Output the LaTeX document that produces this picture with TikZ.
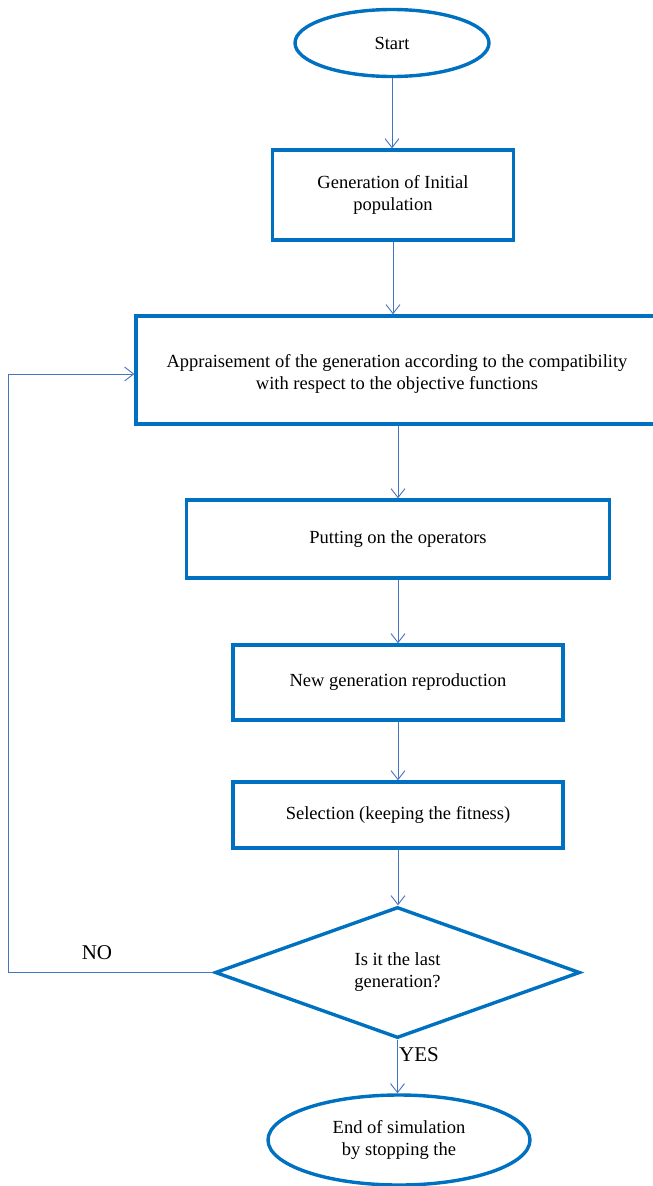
\documentclass[tikz,border=0pt]{standalone}
\usepackage{fontspec}
\setmainfont{Liberation Serif}
\usetikzlibrary{shapes.geometric,arrows.meta}
\definecolor{boxblue}{HTML}{0070C0}
\definecolor{lineblue}{HTML}{4472C4}
\begin{document}
\begin{tikzpicture}[x=1pt,y=-1pt,
  every node/.style={font=\fontsize{18.5}{22}\selectfont, align=center, inner sep=0pt},
  procbox/.style={draw=boxblue, line width=3.4pt, rectangle},
  termbox/.style={draw=boxblue, line width=3.4pt, ellipse},
  decbox/.style={draw=boxblue, line width=3.4pt, diamond},
  flow/.style={draw=lineblue, line width=0.9pt, -{Straight Barb[length=9pt,width=14pt,line width=0.9pt]}},
  lbl/.style={font=\fontsize{21}{24}\selectfont}]
\useasboundingbox (0,0) rectangle (653,1186);
\clip (0,0) rectangle (653,1186);
\node[termbox, minimum width=194pt, minimum height=67pt] (start) at (392,43) {Start};
\node[procbox, minimum width=241pt, minimum height=90pt] (init) at (393,195) {Generation of Initial\\population};
\node[procbox, minimum width=522pt, minimum height=108pt] (appr) at (397,370) {};
\node (apprtext) at (397,374) {Appraisement of the generation according to the compatibility\\with respect to the objective functions};
\node[procbox, minimum width=423pt, minimum height=78pt] (oper) at (398,539) {Putting on the operators};
\node[procbox, minimum width=330pt, minimum height=75pt] (repro) at (398,682.5) {New generation reproduction};
\node[procbox, minimum width=330pt, minimum height=66pt] (sel) at (398,815) {Selection (keeping the fitness)};
\node[decbox, minimum width=365pt, minimum height=131pt] (dec) at (397.5,972.5) {Is it the last\\generation?};
\node[termbox, minimum width=262pt, minimum height=90pt] (stop) at (399,1140) {End of simulation\\by stopping the};
\coordinate (fbtop) at (8,374);
\coordinate (fbbot) at (8,972.5);
\node[lbl] (no) at (97,953) {NO};
\node[lbl] (yes) at (419,1055) {YES};
\draw[flow] (start.south) -- (start.south |- init.north);
\draw[flow] (init.south) -- (init.south |- appr.north);
\draw[flow] (appr.south -| oper.north) -- (oper.north);
\draw[flow] (oper.south) -- (oper.south |- repro.north);
\draw[flow] (repro.south) -- (repro.south |- sel.north);
\draw[flow] (sel.south) -- (sel.south |- dec.north);
\draw[flow] (dec.south) -- (dec.south |- stop.north);
\draw[flow] (dec.west) -- (fbbot) -- (fbtop) -- (fbtop -| appr.west);
\end{tikzpicture}
\end{document}
